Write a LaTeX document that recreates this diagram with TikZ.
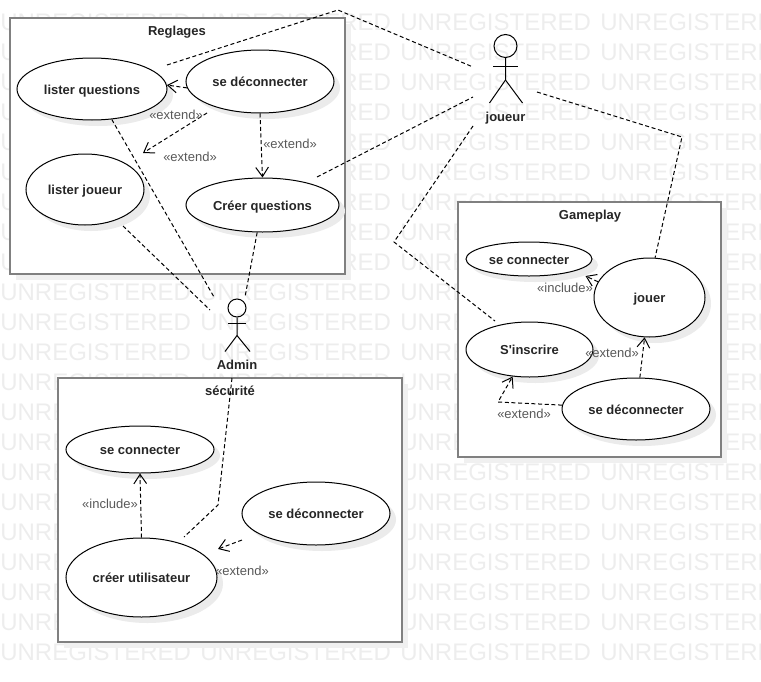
\documentclass[tikz,border=0pt]{standalone}
\usepackage{fontspec}
\setmainfont{Liberation Sans}
\newfontfamily\straightfont{Liberation Sans}
\usetikzlibrary{arrows.meta,shadows,shapes.geometric}

\tikzset{
  usecase/.style={ellipse,draw=black,fill=white,inner sep=0pt,line width=.75pt,
    font=\bfseries\fontsize{9.75}{11}\selectfont,text=black!85,text height=8.5pt,text depth=1pt,
    general shadow={fill=black!8,shadow xshift=4.5pt,shadow yshift=-4.5pt}},
  sysframe/.style={rectangle,draw=black!50,fill=white,inner sep=0pt,line width=1.5pt,
    general shadow={fill=black!6,shadow xshift=4.5pt,shadow yshift=-4.5pt}},
  title/.style={font=\bfseries\fontsize{9.75}{11}\selectfont,text=black!85,inner sep=0pt,text height=8.5pt,text depth=1pt},
  stereo/.style={font=\fontsize{9.75}{11}\selectfont,text=black!65,inner sep=0pt},
  assoc/.style={line width=.75pt,dash pattern=on 3pt off 2pt},
  dep/.style={assoc,-{Straight Barb[length=7pt,width=9.5pt]}},
  actorline/.style={line width=.75pt},
  watermark/.style={font=\fontsize{18}{20}\selectfont,text=black!7,inner sep=0pt,anchor=west}
}

\begin{document}
\begin{tikzpicture}[x=.75pt,y=-.75pt]
  \useasboundingbox (0,0) rectangle (761,682);

  % watermark
  \begin{scope}
    \clip (0,0) rectangle (761,682);
    \foreach \r in {0,...,21}
      \foreach \c in {0,...,3}
        \node[watermark] (wm\r\c) at (200*\c,22+30*\r) {UNREGISTERED};
  \end{scope}

  % system frames
  \node[sysframe,minimum width=251.25pt,minimum height=192pt] (reglages) at (177.5,146) {};
  \node[sysframe,minimum width=197.25pt,minimum height=191.25pt] (gameplay) at (589.5,329.5) {};
  \node[sysframe,minimum width=258pt,minimum height=198pt] (securite) at (230,510) {};
  \node[title] (regtitle) at (177,30) {Reglages};
  \node[title] (gametitle) at (590,214) {Gameplay};
  \node[title] (sectitle) at (230,390) {sécurité};

  % use cases
  \node[usecase,minimum width=112.5pt,minimum height=46.5pt] (listq) at (92,89) {lister questions};
  \node[usecase,minimum width=111pt,minimum height=47.25pt] (decoreg) at (260,81.5) {se déconnecter};
  \node[usecase,minimum width=88.5pt,minimum height=53.25pt] (listj) at (85,189.5) {lister joueur};
  \node[usecase,minimum width=114.75pt,minimum height=40.5pt] (creerq) at (262.5,205) {Créer questions};

  \node[usecase,minimum width=94.5pt,minimum height=25.5pt] (conngame) at (529,259) {se connecter};
  \node[usecase,minimum width=83.25pt,minimum height=59.25pt] (jouer) at (649.5,297.5) {jouer};
  \node[usecase,minimum width=95.25pt,minimum height=41.25pt] (inscrire) at (529.5,349.5) {\straightfont S'inscrire};
  \node[usecase,minimum width=111pt,minimum height=46.5pt] (decogame) at (636,409) {se déconnecter};

  \node[usecase,minimum width=111pt,minimum height=35.25pt] (connsec) at (140,449.5) {se connecter};
  \node[usecase,minimum width=111pt,minimum height=47.25pt] (decosec) at (316,513.5) {se déconnecter};
  \node[usecase,minimum width=113.25pt,minimum height=59.25pt] (creeru) at (141.5,577.5) {créer utilisateur};

  % actors
  \node[circle,draw=black,line width=.75pt,fill=none,minimum size=17.25pt,inner sep=0pt] (joueurhead) at (505.5,46) {};
  \draw[actorline] (joueurhead.south) -- ++(0,22) coordinate (joueurhip) -- ++(-16,23);
  \draw[actorline] (joueurhip) -- ++(17,23);
  \draw[actorline] (493,66) -- (518,66);
  \node[title] (joueurlabel) at (505.5,116) {joueur};

  \node[circle,draw=black,line width=.75pt,fill=none,minimum size=13.5pt,inner sep=0pt] (adminhead) at (237,308) {};
  \draw[actorline] (adminhead.south) -- ++(0,18) coordinate (adminhip) -- ++(-12,16);
  \draw[actorline] (adminhip) -- ++(13,16);
  \draw[actorline] (228,323) -- (246,323);
  \node[title] (adminlabel) at (237,364) {Admin};

  % free ends and bends
  \coordinate (jA) at (473,67);
  \coordinate (jB) at (473,97);
  \coordinate (jC) at (473,126);
  \coordinate (jD) at (537,92);
  \coordinate (jbendA) at (338,10);
  \coordinate (jbendC) at (394,242);
  \coordinate (jbendD) at (682,137);
  \coordinate (aA) at (214,297);
  \coordinate (aB) at (210,310);
  \coordinate (aC) at (245,297);
  \coordinate (aD) at (232,378);
  \coordinate (abend) at (218,505);

  % actor links
  \draw[assoc] (167,65) -- (jbendA) -- (jA);
  \draw[assoc] (317,177) -- (jB);
  \draw[assoc] (jC) -- (jbendC) -- (495,321);
  \draw[assoc] (jD) -- (jbendD) -- (jouer.82);
  \draw[assoc] (listq.-57) -- (aA);
  \draw[assoc] (123,226) -- (aB);
  \draw[assoc] (creerq.-101) -- (aC);
  \draw[assoc] (aD) -- (abend) -- (184,537);

  % reglages dependencies
  \draw[dep] (decoreg.185) -- (listq.3);
  \draw[dep] (207,113) -- (143,153);
  \draw[dep] (decoreg.south) -- (creerq.north);
  \node[stereo] (extA) at (176,115) {«extend»};
  \node[stereo] (extB) at (190,157) {«extend»};
  \node[stereo] (extC) at (290,144) {«extend»};

  % gameplay dependencies
  \draw[dep] (jouer.163) -- (585.5,276);
  \draw[dep] (decogame.83) -- (jouer.-97);
  \coordinate (gamebend) at (498,402);
  \draw[dep] (decogame.177) -- (gamebend) -- (inscrire.-122);
  \node[stereo] (incA) at (565,288) {«include»};
  \node[stereo] (extD) at (612,353) {«extend»};
  \node[stereo] (extE) at (524,414) {«extend»};

  % securite dependencies
  \draw[dep] (creeru.north) -- (connsec.south);
  \draw[dep] (242,540) -- (218,549);
  \node[stereo] (incB) at (110,504) {«include»};
  \node[stereo] (extF) at (242,571) {«extend»};
\end{tikzpicture}
\end{document}
